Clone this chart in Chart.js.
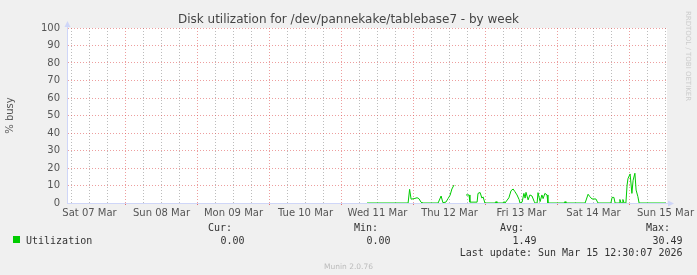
<!DOCTYPE html>
<html><head><meta charset="utf-8">
<script src="https://cdn.jsdelivr.net/npm/chart.js@4.4.1/dist/chart.umd.min.js"></script>
<style>html,body{margin:0;padding:0;background:#F0F0F0;overflow:hidden}</style>
</head><body>
<canvas id="c" width="697" height="275" style="width:697px;height:275px;display:block"></canvas>
<script>
// ---- chart text ----
const titleText = 'Disk utilization for /dev/pannekake/tablebase7 - by week';
const yAxisTitle = '% busy';
const dayLabels = ['Sat 07 Mar','Sun 08 Mar','Mon 09 Mar','Tue 10 Mar','Wed 11 Mar','Thu 12 Mar','Fri 13 Mar','Sat 14 Mar','Sun 15 Mar'];
const seriesName = 'Utilization';
const statHeaders = ['Cur:','Min:','Avg:','Max:'];
const statValues = [0.00, 0.00, 1.49, 30.49];
const lastUpdate = 'Last update: Sun Mar 15 12:30:07 2026';
const footerText = 'Munin 2.0.76';
const sideText = 'RRDTOOL / TOBI OETIKER';

// ---- data: hours since the start of the graph window, % busy ----
const hours = [100.0,113.7,114.2,114.7,115.7,116.7,117.3,118.0,118.3,123.7,124.7,125.3,126.3,127.0,127.7,128.3,129.0,
  131.0,
  133.0,134.0,134.3,136.7,137.0,137.7,138.3,138.7,139.3,142.7,143.0,143.3,145.3,145.7,146.0,147.3,148.0,148.7,149.3,150.0,150.7,151.0,
  151.7,152.3,152.7,153.0,153.7,154.3,155.0,155.7,156.0,156.7,157.0,157.7,158.3,158.7,159.3,160.0,160.3,
  165.7,166.0,166.3,172.7,173.7,174.3,175.0,176.3,177.0,181.3,181.7,182.3,182.7,184.0,184.3,184.7,185.0,185.3,185.7,
  186.3,186.7,187.0,187.7,188.3,188.7,189.3,189.7,190.3,190.7,199.5];
const utilization = [0,0,7.8,2.2,2.5,3.0,2.5,0.5,0,0,4.0,0.2,0.5,2.5,4.5,8.0,10.3,
  null,
  4.6,4.6,0.5,0.5,5.5,6.0,2.8,3.5,0,0,0.8,0,0,0.8,0,3.0,7.0,8.0,6.5,4.6,2.0,0,
  0.5,5.5,2.8,6.1,1.8,4.6,4.0,1.0,0,0,5.9,0.8,4.6,2.5,5.5,4.6,0,
  0,0.8,0,0,5.0,3.6,2.3,2.3,0,0,3.2,3.2,0,0,2.0,0,0,2.0,0,
  0,10.3,14.0,16.6,5.5,13.0,17.0,7.4,3.6,0,0];

// axis window / grid layout (hours)
const xMin = 0, xMax = 200;
const gridStep = 6, firstGrid = 1.5, firstMidnight = 19.5, firstNoon = 7.5;

const GRID = 'rgba(143,143,143,0.6)';
const MGRID = 'rgba(222,79,79,0.55)';
const AXIS = '#CFD6F8';
const GREEN = '#00CC00';

const decor = {
  id: 'decor',
  beforeDraw(chart) {
    const {ctx, chartArea: a} = chart;
    ctx.save();
    ctx.fillStyle = '#F0F0F0';
    ctx.fillRect(0, 0, chart.width, chart.height);
    ctx.fillStyle = '#FFFFFF';
    ctx.fillRect(a.left, a.top, a.right - a.left, a.bottom - a.top);
    ctx.restore();
  },
  afterDraw(chart) {
    const {ctx, chartArea: a} = chart;
    ctx.save();
    // axis extensions and arrows
    ctx.strokeStyle = AXIS; ctx.fillStyle = AXIS; ctx.lineWidth = 1;
    ctx.beginPath(); ctx.moveTo(a.left + 0.5, a.top); ctx.lineTo(a.left + 0.5, a.top - 4); ctx.stroke();
    ctx.beginPath(); ctx.moveTo(a.right, a.bottom + 0.5); ctx.lineTo(a.right + 3, a.bottom + 0.5); ctx.stroke();
    ctx.beginPath(); ctx.moveTo(a.left - 2.5, a.top - 1); ctx.lineTo(a.left + 3.5, a.top - 1); ctx.lineTo(a.left + 0.5, a.top - 7); ctx.closePath(); ctx.fill();
    ctx.beginPath(); ctx.moveTo(a.right + 1, a.bottom - 2.5); ctx.lineTo(a.right + 1, a.bottom + 3.5); ctx.lineTo(a.right + 7, a.bottom + 0.5); ctx.closePath(); ctx.fill();

    // title
    ctx.fillStyle = '#444';
    ctx.font = '12px "DejaVu Sans"';
    ctx.textAlign = 'center'; ctx.textBaseline = 'alphabetic';
    ctx.fillText(titleText, chart.width / 2, 23);

    // legend table
    ctx.font = '10px "DejaVu Sans Mono"';
    ctx.fillStyle = '#333';
    ctx.textAlign = 'right';
    const colRight = [232, 378, 524, 670];
    statHeaders.forEach((h, i) => ctx.fillText(h, colRight[i], 231));
    statValues.forEach((v, i) => ctx.fillText(v.toFixed(2), colRight[i] + 12.5, 243.5));
    ctx.textAlign = 'left';
    ctx.fillText(seriesName, 26, 243.5);
    ctx.fillStyle = GREEN;
    ctx.fillRect(13, 236, 7, 7);
    ctx.fillStyle = '#333';
    ctx.textAlign = 'right';
    ctx.fillText(lastUpdate, 682.5, 256);

    // footer
    ctx.font = '7.5px "DejaVu Sans"';
    ctx.fillStyle = '#BBBBBB';
    ctx.textAlign = 'center';
    ctx.fillText(footerText, chart.width / 2, 269);

    // side text
    ctx.translate(688, 56);
    ctx.rotate(Math.PI / 2);
    ctx.font = '7px "DejaVu Sans"';
    ctx.fillStyle = '#CCCCCC';
    ctx.textBaseline = 'middle';
    ctx.fillText(sideText, 0, 0);
    ctx.restore();
  }
};

const isMidnight = v => Math.abs(((v - firstMidnight) % 24 + 24) % 24) < 1e-6;
const isNoon = v => Math.abs(((v - firstNoon) % 24 + 24) % 24) < 1e-6;

new Chart(document.getElementById('c'), {
  type: 'line',
  data: {
    datasets: [{
      label: seriesName,
      data: hours.map((h, i) => ({x: h, y: utilization[i]})),
      borderColor: GREEN,
      borderWidth: 1,
      pointRadius: 0,
      tension: 0,
      spanGaps: false,
      fill: false
    }]
  },
  options: {
    responsive: false,
    devicePixelRatio: 1,
    animation: false,
    layout: {padding: {left: 0, right: 30, top: 28, bottom: 52}},
    plugins: {legend: {display: false}, title: {display: false}, tooltip: {enabled: false}},
    scales: {
      x: {
        type: 'linear', min: xMin, max: xMax,
        afterBuildTicks(s) {
          const t = [];
          for (let v = firstGrid; v <= xMax; v += gridStep) t.push({value: v});
          s.ticks = t;
        },
        afterFit(s) { s.height = 20; },
        grid: {
          color: c => isMidnight(c.tick.value) ? MGRID : GRID,
          drawTicks: true, tickLength: 2, lineWidth: 1,
          tickColor: c => isMidnight(c.tick.value) ? 'rgba(222,79,79,0.8)' : 'rgba(0,0,0,0)'
        },
        border: {display: true, color: AXIS, width: 1, dash: [1, 2]},
        ticks: {
          autoSkip: false, maxRotation: 0, padding: 2,
          color: '#555', font: {family: 'DejaVu Sans', size: 10},
          callback: (v) => isNoon(v) ? dayLabels[Math.round((v - firstNoon) / 24)] : ''
        }
      },
      y: {
        type: 'linear', min: 0, max: 100,
        afterBuildTicks(s) {
          const t = [];
          for (let v = 0; v <= 100; v += 5) t.push({value: v});
          s.ticks = t;
        },
        afterFit(s) { s.width = 67; },
        grid: {
          color: c => c.tick.value === 0 ? 'rgba(0,0,0,0)' : (c.tick.value % 10 === 0 ? MGRID : GRID),
          drawTicks: false, lineWidth: 1
        },
        border: {display: true, color: AXIS, width: 1, dash: [1, 2]},
        ticks: {
          padding: 7, color: '#555', font: {family: 'DejaVu Sans', size: 10},
          callback: v => v % 10 === 0 ? String(v) : ''
        },
        title: {display: true, text: yAxisTitle, color: '#555', font: {family: 'DejaVu Sans', size: 10}, padding: {top: 4, bottom: 0}}
      }
    }
  },
  plugins: [decor]
});
</script>
</body></html>
